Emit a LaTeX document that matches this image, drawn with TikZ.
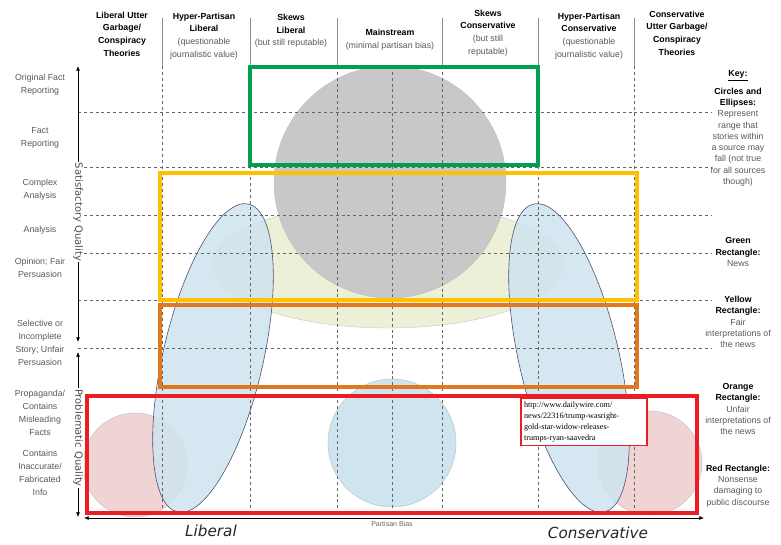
\documentclass[tikz,border=0pt]{standalone}
\usepackage{fontspec}
\setmainfont{Liberation Sans}
\newfontfamily\urlfont{Liberation Serif}
\newfontfamily\handfont{DejaVu Sans}
\usetikzlibrary{arrows.meta}

\definecolor{newsgreen}{RGB}{0,160,80}
\definecolor{fairyellow}{RGB}{255,192,0}
\definecolor{unfairorange}{RGB}{226,120,30}
\definecolor{garbagered}{RGB}{236,28,36}
\definecolor{rangegray}{RGB}{200,200,200}
\definecolor{rangeblue}{RGB}{206,228,238}
\definecolor{rangepink}{RGB}{240,212,212}
\definecolor{rangecream}{RGB}{236,240,214}

\newcommand{\headnote}[1]{{\color{black!65}#1}}

\tikzset{
  gridline/.style={black!60, line width=0.5pt, dash pattern=on 2.5pt off 2.5pt},
  colsep/.style={black!45, line width=0.6pt},
  colhead/.style={align=center, font=\fontsize{7.5}{10.8}\selectfont},
  rowlabel/.style={align=center, text=black!65, font=\fontsize{7.5}{11}\selectfont},
  keytext/.style={align=center, font=\fontsize{7.5}{9.6}\selectfont},
  qualbox/.style={draw=#1, line width=2.8pt},
  rangeshape/.style={fill=#1, draw=black!25, line width=0.4pt},
  tiltshape/.style={fill=rangeblue, fill opacity=0.85, draw=black!60!blue!40!gray, line width=0.5pt},
  axisarrow/.style={black, line width=0.6pt, {Latex[length=4pt,width=3.5pt]}-{Latex[length=4pt,width=3.5pt]}},
  axisname/.style={fill=white, text=black!70, inner sep=1pt, font=\handfont\fontsize{8.5}{9}\selectfont}
}

\begin{document}
\begin{tikzpicture}[x=0.3mm, y=-0.3mm]
  \useasboundingbox (0,0) rectangle (781,544);

  % Ranges
  \fill[rangecream, draw=black!20, line width=0.4pt] (388,265) ellipse [x radius=175, y radius=63];
  \draw[rangeshape=rangegray] (390,182) circle [radius=116];
  \draw[rangeshape=rangepink] (135,465) circle [radius=52];
  \draw[rangeshape=rangepink] (650,463) circle [radius=52];
  \draw[tiltshape, rotate around={-13:(213,358)}] (213,358) ellipse [x radius=50, y radius=158];
  \draw[tiltshape, rotate around={13:(569,358)}] (569,358) ellipse [x radius=50, y radius=158];
  \draw[rangeshape=rangeblue] (392,443) circle [radius=64];

  % Grid
  \foreach \x in {162,250,337,392,442,538,634} {
      \draw[gridline] (\x,66) -- (\x,516);
    }
  \foreach \y in {112,167,215,253,300,348} {
      \draw[gridline] (78,\y) -- (712,\y);
    }
  \foreach \x in {162,250,337,442,538,634} {
      \draw[colsep] (\x,18) -- (\x,66);
    }

  % Rectangles
  \draw[qualbox=newsgreen] (250,67) rectangle (538,165);
  \draw[qualbox=fairyellow, line width=3.4pt] (160,173) rectangle (637,300);
  \draw[qualbox=unfairorange] (160,305) rectangle (637,387);
  \draw[qualbox=garbagered, line width=3.4pt] (87,396) rectangle (697,513);

  \node[draw=garbagered, line width=1.1pt, fill=white, align=left, text width=36mm,
    inner sep=2.5pt, font=\urlfont\fontsize{7}{9.4}\selectfont] (source) at (584,422)
    {http://www.dailywire.com/\\news/22316/trump-wasright-\\gold-star-widow-releases-\\trumps-ryan-saavedra};

  % Axes
  \coordinate (satTop) at (78,66);
  \coordinate (satBot) at (78,342);
  \coordinate (probTop) at (78,352);
  \coordinate (probBot) at (78,517);
  \coordinate (biasL) at (84,518);
  \coordinate (biasR) at (704,518);
  \draw[axisarrow] (satBot) -- (satTop);
  \draw[axisarrow] (probTop) -- (probBot);
  \draw[axisarrow] (biasL) -- (biasR);
  \node[axisname, rotate=-90] (satName) at (78,212) {Satisfactory Quality};
  \node[axisname, rotate=-90] (probName) at (78,438) {Problematic Quality};
  \node[text=black!60, font=\fontsize{6}{7}\selectfont, inner sep=1pt] (biasName) at (392,524) {Partisan Bias};
  \node[font=\handfont\itshape\fontsize{13}{14}\selectfont, text=black!85] (libName) at (211,531) {Liberal};
  \node[font=\handfont\itshape\fontsize{13}{14}\selectfont, text=black!85] (conName) at (598,533) {Conservative};

  % Column headers
  \node[colhead] (hLUG) at (122,34) {\textbf{Liberal Utter}\\\textbf{Garbage/}\\\textbf{Conspiracy}\\\textbf{Theories}};
  \node[colhead] (hHPL) at (204,36) {\textbf{Hyper-Partisan}\\\textbf{Liberal}\\\headnote{(questionable}\\\headnote{journalistic value)}};
  \node[colhead] (hSL) at (291,31) {\textbf{Skews}\\\textbf{Liberal}\\\headnote{(but still reputable)}};
  \node[colhead] (hMS) at (390,40) {\textbf{Mainstream}\\\headnote{(minimal partisan bias)}};
  \node[colhead] (hSC) at (488,33) {\textbf{Skews}\\\textbf{Conservative}\\\headnote{(but still}\\\headnote{reputable)}};
  \node[colhead] (hHPC) at (589,36) {\textbf{Hyper-Partisan}\\\textbf{Conservative}\\\headnote{(questionable}\\\headnote{journalistic value)}};
  \node[colhead] (hCUG) at (677,33) {\textbf{Conservative}\\\textbf{Utter Garbage/}\\\textbf{Conspiracy}\\\textbf{Theories}};

  % Row labels
  \node[rowlabel] (rOrig) at (40,85) {Original Fact\\Reporting};
  \node[rowlabel] (rFact) at (40,138) {Fact\\Reporting};
  \node[rowlabel] (rComplex) at (40,190) {Complex\\Analysis};
  \node[rowlabel] (rAnalysis) at (40,230) {Analysis};
  \node[rowlabel] (rOpinion) at (40,268) {Opinion; Fair\\Persuasion};
  \node[rowlabel] (rSelective) at (40,343) {Selective or\\Incomplete\\Story; Unfair\\Persuasion};
  \node[rowlabel] (rPropaganda) at (40,413) {Propaganda/\\Contains\\Misleading\\Facts};
  \node[rowlabel] (rFabricated) at (40,473) {Contains\\Inaccurate/\\Fabricated\\Info};

  % Key
  \node[keytext] (kTitle) at (738,76) {\underline{\textbf{Key:}}};
  \node[keytext] (kShapes) at (738,137) {\textbf{Circles and}\\\textbf{Ellipses:}\\\headnote{Represent}\\\headnote{range that}\\\headnote{stories within}\\\headnote{a source may}\\\headnote{fall (not true}\\\headnote{for all sources}\\\headnote{though)}};
  \node[keytext] (kGreen) at (738,252) {\textbf{Green}\\\textbf{Rectangle:}\\\headnote{News}};
  \node[keytext] (kYellow) at (738,322) {\textbf{Yellow}\\\textbf{Rectangle:}\\\headnote{Fair}\\\headnote{interpretations of}\\\headnote{the news}};
  \node[keytext] (kOrange) at (738,409) {\textbf{Orange}\\\textbf{Rectangle:}\\\headnote{Unfair}\\\headnote{interpretations of}\\\headnote{the news}};
  \node[keytext] (kRed) at (738,486) {\textbf{Red Rectangle:}\\\headnote{Nonsense}\\\headnote{damaging to}\\\headnote{public discourse}};
\end{tikzpicture}
\end{document}
